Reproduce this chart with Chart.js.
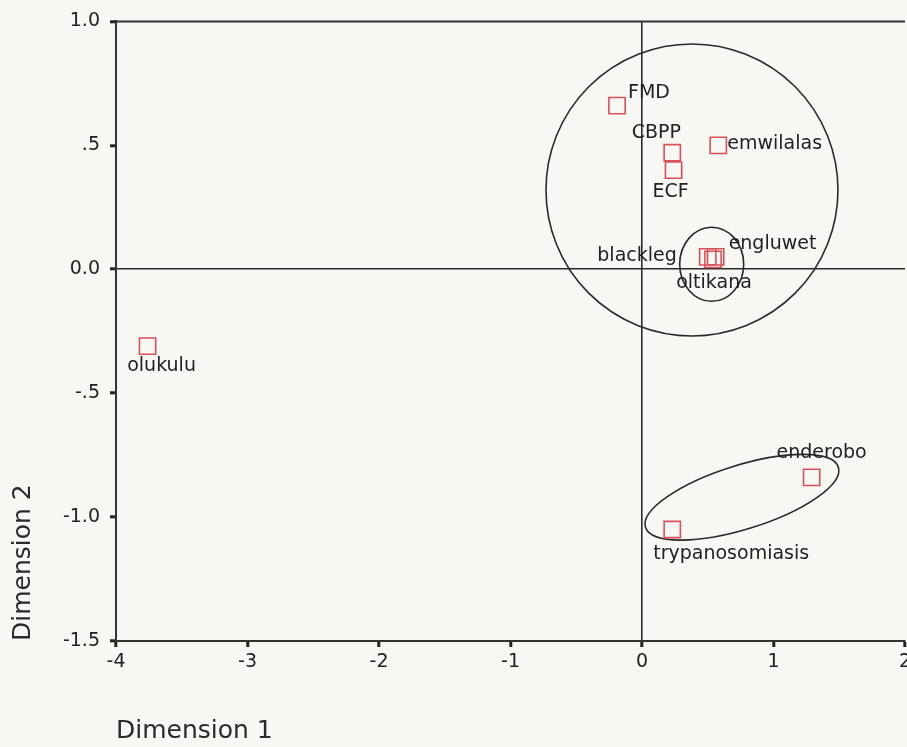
<!DOCTYPE html>
<html lang="en">
<head>
  <meta charset="UTF-8">
  <title>Dimension 1 / Dimension 2</title>
  <script src="https://cdn.jsdelivr.net/npm/chart.js"></script>
  <style>
    body {
      margin: 0;
      background-color: #f7f7f4;
    }
    #chartContainer {
      width: 907px;
      height: 747px;
    }
  </style>
</head>
<body>
  <div id="chartContainer">
    <canvas id="chart"></canvas>
  </div>

  <script>
    // point names and their coordinates on the two dimensions
    const pointNames = ['FMD', 'CBPP', 'ECF', 'emwilalas', 'blackleg', 'engluwet', 'oltikana', 'olukulu', 'enderobo', 'trypanosomiasis'];
    const dimension1 = [-0.19, 0.23, 0.24, 0.58, 0.50, 0.56, 0.54, -3.76, 1.29, 0.23];
    const dimension2 = [0.66, 0.47, 0.40, 0.50, 0.05, 0.05, 0.04, -0.31, -0.84, -1.05];

    // tick values and the way they are printed
    const xTickValues = [-4, -3, -2, -1, 0, 1, 2];
    const xTickLabels = ['-4', '-3', '-2', '-1', '0', '1', '2'];
    const yTickValues = [-1.5, -1, -0.5, 0, 0.5, 1];
    const yTickLabels = ['-1.5', '-1.0', '-.5', '0.0', '.5', '1.0'];

    // centres of the drawn groupings (in data units)
    const groupCenterX = [0.38, 0.53, 0.76];
    const groupCenterY = [0.32, 0.02, -0.92];

    // outline sizes in pixels, rotation in degrees
    const groupShapes = [
      { rx: 146, ry: 146, rot: 0 },
      { rx: 32, ry: 37, rot: 0 },
      { rx: 101, ry: 32, rot: -17.3 }
    ];

    // where each name sits next to its square (pixels)
    const labelLayout = {
      'FMD': { dx: 11, dy: -13, align: 'left' },
      'CBPP': { dx: -16, dy: -20, align: 'center' },
      'ECF': { dx: -3, dy: 22, align: 'center' },
      'emwilalas': { dx: 9, dy: -1, align: 'left' },
      'blackleg': { dx: -31, dy: -1, align: 'right' },
      'engluwet': { dx: 13, dy: -13, align: 'left' },
      'oltikana': { dx: 1, dy: 24, align: 'center' },
      'olukulu': { dx: 14, dy: 20, align: 'center' },
      'enderobo': { dx: 10, dy: -24, align: 'center' },
      'trypanosomiasis': { dx: -19, dy: 25, align: 'left' }
    };

    const FONT = "'DejaVu Sans', sans-serif";
    const INK = '#222';

    const overlays = {
      id: 'overlays',
      beforeDatasetsDraw(chart) {
        const { ctx, chartArea: a, scales: { x, y } } = chart;
        ctx.save();
        // top edge of the frame
        ctx.strokeStyle = '#333';
        ctx.lineWidth = 2;
        ctx.beginPath();
        ctx.moveTo(a.left, a.top);
        ctx.lineTo(a.right, a.top);
        ctx.stroke();
        // group outlines
        ctx.strokeStyle = '#2a2a2a';
        ctx.lineWidth = 1.6;
        groupCenterX.forEach((gx, i) => {
          const s = groupShapes[i];
          ctx.beginPath();
          ctx.ellipse(x.getPixelForValue(gx), y.getPixelForValue(groupCenterY[i]),
            s.rx, s.ry, s.rot * Math.PI / 180, 0, 2 * Math.PI);
          ctx.stroke();
        });
        ctx.restore();
      },
      afterDatasetsDraw(chart) {
        const { ctx } = chart;
        const meta = chart.getDatasetMeta(0);
        ctx.save();
        ctx.fillStyle = INK;
        ctx.font = '19px ' + FONT;
        ctx.textBaseline = 'middle';
        meta.data.forEach((pt, i) => {
          const lay = labelLayout[pointNames[i]];
          ctx.textAlign = lay.align;
          ctx.fillText(pointNames[i], pt.x + lay.dx, pt.y + lay.dy);
        });
        ctx.restore();
      }
    };

    const zeroLine = (c) => (c.tick && c.tick.value === 0 ? '#2a2a2a' : 'rgba(0,0,0,0)');

    new Chart(document.getElementById('chart'), {
      type: 'scatter',
      data: {
        datasets: [{
          label: 'points',
          data: dimension1.map((v, i) => ({ x: v, y: dimension2[i] })),
          pointStyle: 'rect',
          pointRadius: 11.5,
          pointHoverRadius: 11.5,
          borderColor: '#d9505a',
          backgroundColor: 'rgba(0,0,0,0)',
          borderWidth: 1.6
        }]
      },
      options: {
        responsive: true,
        maintainAspectRatio: false,
        animation: false,
        events: [],
        layout: { autoPadding: false, padding: { top: 21, right: 0, bottom: 0, left: 0 } },
        plugins: {
          legend: { display: false },
          tooltip: { enabled: false }
        },
        scales: {
          x: {
            type: 'linear',
            min: -4,
            max: 2,
            afterBuildTicks: (s) => { s.ticks = xTickValues.map(v => ({ value: v })); },
            afterFit: (s) => { s.height = 106; s.paddingRight = 2; },
            ticks: {
              callback: (v) => xTickLabels[xTickValues.indexOf(v)],
              font: { family: FONT, size: 19 },
              color: INK,
              padding: 4,
              maxRotation: 0
            },
            grid: {
              drawOnChartArea: true,
              color: zeroLine,
              lineWidth: 1.6,
              drawTicks: true,
              tickLength: 6,
              tickWidth: 3,
              tickColor: '#222'
            },
            border: { display: true, color: '#333', width: 2 },
            title: {
              display: true,
              text: 'Dimension 1',
              align: 'start',
              color: '#2a2a2a',
              font: { family: FONT, size: 25 },
              padding: { top: 0, bottom: 1 }
            }
          },
          y: {
            type: 'linear',
            min: -1.5,
            max: 1,
            afterBuildTicks: (s) => { s.ticks = yTickValues.map(v => ({ value: v })); },
            afterFit: (s) => { s.width = 116; },
            ticks: {
              callback: (v) => yTickLabels[yTickValues.indexOf(v)],
              font: { family: FONT, size: 19 },
              color: INK,
              padding: 10
            },
            grid: {
              drawOnChartArea: true,
              color: zeroLine,
              lineWidth: 1.6,
              drawTicks: true,
              tickLength: 6,
              tickWidth: 3,
              tickColor: '#222'
            },
            border: { display: true, color: '#333', width: 2 },
            title: {
              display: true,
              text: 'Dimension 2',
              align: 'start',
              color: '#2a2a2a',
              font: { family: FONT, size: 25 },
              padding: { top: 8, bottom: 0 }
            }
          }
        }
      },
      plugins: [overlays]
    });
  </script>
</body>
</html>
